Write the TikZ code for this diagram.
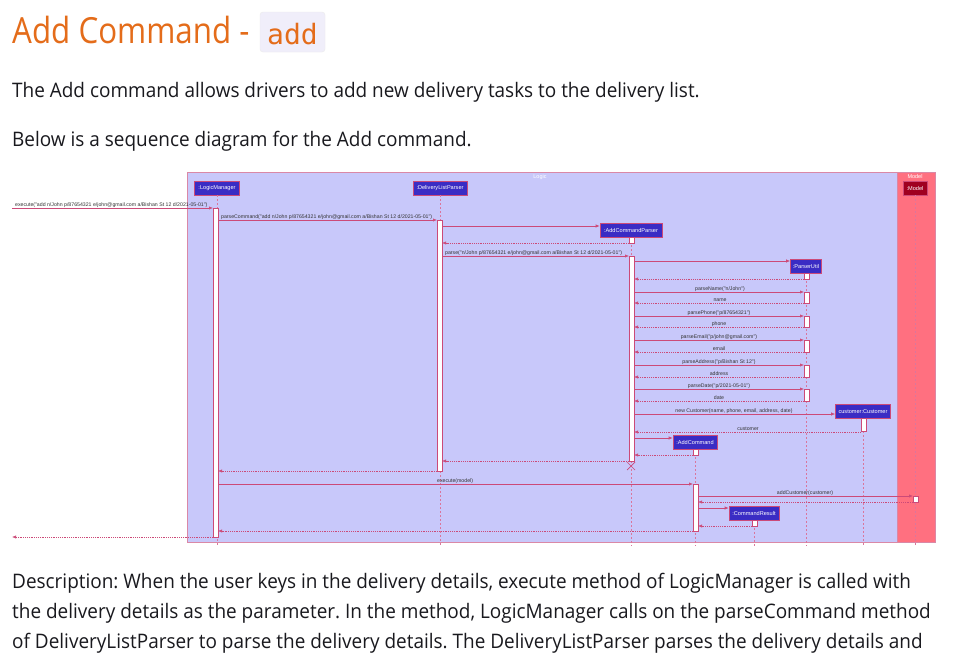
\documentclass[tikz,border=0pt]{standalone}
\usepackage{fontspec}
\setmainfont{Open Sans}[FakeStretch=0.948]
\newfontfamily\headfont{Open Sans}[FakeStretch=0.87]
\newfontfamily\diafont{Liberation Sans}
\newfontfamily\codefont{DejaVu Sans Mono}
\usetikzlibrary{arrows.meta}
\frenchspacing
\definecolor{hd}{RGB}{228,108,26}
\definecolor{bodytxt}{RGB}{25,25,30}
\definecolor{logicbg}{RGB}{200,200,250}
\definecolor{modelbg}{RGB}{255,112,128}
\definecolor{frame}{RGB}{218,136,166}
\definecolor{pline}{RGB}{204,74,120}
\definecolor{plife}{RGB}{218,118,156}
\definecolor{pbox}{RGB}{58,44,196}
\definecolor{mbox}{RGB}{160,0,32}
\definecolor{codebg}{RGB}{240,238,250}
\tikzset{
  part/.style={draw=pline, fill=pbox, text=white, font=\diafont\fontsize{5.6}{6}\selectfont, inner sep=0pt, minimum height=14pt, line width=0.6pt},
  mpart/.style={part, fill=mbox},
  act/.style={draw=pline, fill=white, line width=0.6pt},
  msg/.style={draw=pline, line width=0.6pt, -{Latex[length=4pt,width=3.2pt]}},
  ret/.style={msg, dash pattern=on 1.2pt off 1pt},
  life/.style={draw=plife, dash pattern=on 2pt off 2pt, line width=0.5pt},
  lbl/.style={font=\diafont\fontsize{5.2}{6}\selectfont, text=black!80, inner sep=0pt, anchor=base},
  lbll/.style={lbl, anchor=base west},
  body/.style={font=\fontsize{20}{24}\selectfont, text=bodytxt, inner sep=0pt, anchor=base west},
  ttl/.style={font=\diafont\fontsize{5.5}{6}\selectfont, text=white, inner sep=0pt}
}
\begin{document}
\begin{tikzpicture}[x=1pt,y=-1pt]
\useasboundingbox (0,0) rectangle (962,664);
\fill[white] (0,0) rectangle (962,664);

% heading
\node[font=\headfont\fontsize{36}{40}\selectfont, text=hd, inner sep=0pt, anchor=base west] (head) at (12,43) {Add Command -};
\draw[draw=black!8, fill=codebg, rounded corners=3pt] (260,12) rectangle (325,52);
\node[font=\codefont\fontsize{28}{30}\selectfont, text=hd, inner sep=0pt, anchor=base] (code) at (292.5,44) {add};

\node[body] (p1) at (12,97) {The Add command allows drivers to add new delivery tasks to the delivery list.};
\node[body] (p2) at (12,146) {Below is a sequence diagram for the Add command.};

% frames
\draw[draw=frame, fill=logicbg, line width=0.8pt] (187,172) rectangle (897,542);
\draw[draw=frame, fill=modelbg, line width=0.8pt] (897,172) rectangle (935,542);
\node[ttl] (tlogic) at (540,177) {Logic};
\node[ttl] (tmodel) at (915,177) {Model};

% participants
\node[part, minimum width=45pt] (lm) at (217,188) {:LogicManager};
\node[part, minimum width=54pt] (dlp) at (440,188) {:DeliveryListParser};
\node[part, minimum width=62pt] (acp) at (631,230) {:AddCommandParser};
\node[part, minimum width=31pt] (pu) at (806,266) {:ParserUtil};
\node[part, minimum width=55pt] (cu) at (863,411.5) {customer:Customer};
\node[part, minimum width=44pt] (ac) at (695,442) {:AddCommand};
\node[part, minimum width=50pt] (cr) at (754,513) {:CommandResult};
\node[mpart, minimum width=24pt] (mo) at (915,188) {:Model};

% lifelines
\draw[life] (lm.south) -- (217,546);
\draw[life] (dlp.south) -- (440,546);
\draw[life] (acp.south) -- (631,546);
\draw[life] (pu.south) -- (806,546);
\draw[life] (cu.south) -- (863,546);
\draw[life] (ac.south) -- (695,546);
\draw[life] (cr.south) -- (754,546);
\draw[life] (mo.south) -- (915,546);

% activations
\draw[act] (213,208) rectangle (218,537);
\draw[act] (437,220) rectangle (442,471);
\draw[act] (629,237) rectangle (634,243);
\draw[act] (629,256) rectangle (634,461);
\draw[act] (804,273) rectangle (809,279);
\draw[act] (804,292) rectangle (809,303);
\draw[act] (804,316) rectangle (809,327);
\draw[act] (804,340) rectangle (809,352);
\draw[act] (804,365) rectangle (809,377);
\draw[act] (804,389) rectangle (809,401);
\draw[act] (861,418) rectangle (866,431);
\draw[act] (693,449) rectangle (698,455);
\draw[act] (693,484) rectangle (698,531);
\draw[act] (913,496) rectangle (918,502);
\draw[act] (752,520) rectangle (757,526);

% messages
\draw[msg] (12,208) -- (213,208);
\node[lbll] at (15,206) {execute("add n/John p/87654321 e/john@gmail.com a/Bishan St 12 d/2021-05-01")};
\draw[msg] (218,220) -- (437,220);
\node[lbll] at (221,218) {parseCommand("add n/John p/87654321 e/john@gmail.com a/Bishan St 12 d/2021-05-01")};
\draw[msg] (442,226) -- (acp.west |- 0,226);
\draw[ret] (629,243) -- (442,243);
\draw[msg] (442,256) -- (629,256);
\node[lbll] at (445,254) {parse("n/John p/87654321 e/john@gmail.com a/Bishan St 12 d/2021-05-01")};
\draw[msg] (634,261) -- (pu.west |- 0,261);
\draw[ret] (804,279) -- (634,279);

\draw[msg] (634,292) -- (804,292);
\node[lbl] at (720,290) {parseName("n/John")};
\draw[ret] (804,303) -- (634,303);
\node[lbl] at (720,301) {name};
\draw[msg] (634,316) -- (804,316);
\node[lbl] at (719,314) {parsePhone("p/87654321")};
\draw[ret] (804,327) -- (634,327);
\node[lbl] at (719,325) {phone};
\draw[msg] (634,340) -- (804,340);
\node[lbl] at (719,338) {parseEmail("p/john@gmail.com")};
\draw[ret] (804,352) -- (634,352);
\node[lbl] at (719,350) {email};
\draw[msg] (634,365) -- (804,365);
\node[lbl] at (719,363) {parseAddress("p/Bishan St 12")};
\draw[ret] (804,377) -- (634,377);
\node[lbl] at (719,375) {address};
\draw[msg] (634,389) -- (804,389);
\node[lbl] at (719,387) {parseDate("p/2021-05-01")};
\draw[ret] (804,401) -- (634,401);
\node[lbl] at (719,399) {date};

\draw[msg] (634,414) -- (cu.west |- 0,414);
\node[lbl] at (734,412) {new Customer(name, phone, email, address, date)};
\draw[ret] (861,432) -- (634,432);
\node[lbl] at (748,430) {customer};
\draw[msg] (634,438) -- (ac.west |- 0,438);
\draw[ret] (693,455) -- (634,455);
\draw[ret] (629,461) -- (442,461);
\draw[pline, line width=0.7pt] (627,462) -- (635,470) (627,470) -- (635,462);
\draw[ret] (437,471) -- (218,471);

\draw[msg] (218,484) -- (693,484);
\node[lbll] at (437,482) {execute(model)};
\draw[msg] (698,496) -- (913,496);
\node[lbl] at (805,494) {addCustomer(customer)};
\draw[ret] (913,502) -- (698,502);
\draw[msg] (698,508) -- (cr.west |- 0,508);
\draw[ret] (752,526) -- (698,526);
\draw[ret] (693,531) -- (218,531);
\draw[ret] (213,537) -- (12,537);

% description
\node[body] (d1) at (12,588) {Description: When the user keys in the delivery details, execute method of LogicManager is called with};
\node[body] (d2) at (12,618) {the delivery details as the parameter. In the method, LogicManager calls on the parseCommand method};
\node[body] (d3) at (12,648) {of DeliveryListParser to parse the delivery details. The DeliveryListParser parses the delivery details and};
\end{tikzpicture}
\end{document}
